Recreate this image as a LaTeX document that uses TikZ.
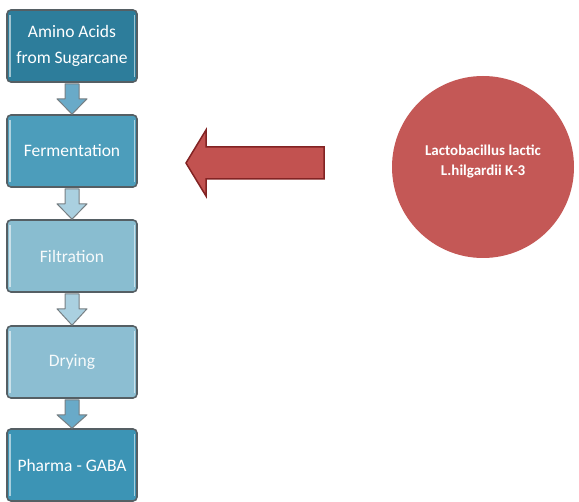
\documentclass[tikz,border=0pt]{standalone}
\usepackage{fontspec}
\setmainfont{Carlito}
\usetikzlibrary{calc}
\definecolor{bA}{RGB}{45,125,155}
\definecolor{bB}{RGB}{76,157,187}
\definecolor{bC}{RGB}{137,189,208}
\definecolor{bD}{RGB}{140,190,210}
\definecolor{bE}{RGB}{60,148,181}
\definecolor{edge}{RGB}{85,95,100}
\definecolor{arrfillA}{RGB}{105,170,200}
\definecolor{arrfill}{RGB}{170,208,224}
\definecolor{redfill}{RGB}{194,82,80}
\definecolor{redline}{RGB}{130,35,35}
\definecolor{circfill}{RGB}{196,88,86}
\begin{document}
\begin{tikzpicture}[x=1pt,y=-1pt,
  stepbox/.style={draw=edge, line width=1.6pt, rounded corners=4pt,
    minimum width=130pt, minimum height=72pt, inner sep=0pt,
    text=white, align=center, font=\fontsize{17.5}{26}\selectfont},
  downarr/.style={draw=edge!80, line width=1pt, line join=round}]
\useasboundingbox (0,0) rectangle (579,502);
\fill[white] (0,0) rectangle (579,502);

\node[stepbox, fill=bA] (n1) at (72,46) {Amino Acids\\from Sugarcane};
\node[stepbox, fill=bB] (n2) at (72,151) {Fermentation};
\node[stepbox, fill=bC, text=white!92!bC] (n3) at (72,256) {Filtration};
\node[stepbox, fill=bD, text=white!92!bD] (n4) at (72,362) {Drying};
\node[stepbox, fill=bE] (n5) at (72,465) {Pharma - GABA};

\foreach \n/\c in {n1/bA,n2/bB,n3/bC,n4/bD,n5/bE}{
  \draw[white!55!\c, line width=1.6pt] ($(\n.north west)+(3.5,6)$) -- ($(\n.south west)+(3.5,-6)$);
  \draw[white!55!\c, line width=1.6pt] ($(\n.north east)+(-3.5,6)$) -- ($(\n.south east)+(-3.5,-6)$);
}

\foreach \a/\b/\f in {n1/n2/arrfillA,n2/n3/arrfill,n3/n4/arrfill,n4/n5/arrfillA}{
  \draw[downarr, fill=\f]
    ($(\a.south)+(-7,1)$) -- ($(\a.south)+(7,1)$) -- ($(\a.south)+(7,16)$)
    -- ($(\a.south)+(15,16)$) -- ($(\b.north)+(0,0)$) -- ($(\a.south)+(-15,16)$)
    -- ($(\a.south)+(-7,16)$) -- cycle;
}

\node[circle, fill=circfill, minimum size=182pt, inner sep=0pt] (bact) at (483,167) {};
\node[text=white, align=center, font=\bfseries\fontsize{15}{20}\selectfont]
  (bacttext) at ($(bact.center)+(0,-5)$) {Lactobacillus lactic\\L.hilgardii K-3};

\coordinate (tip) at (186,163);
\draw[fill=redfill, draw=redline, line width=1.5pt, line join=miter]
  (tip) -- (206,130) -- (206,147) -- (324,147) -- (324,179) -- (206,179) -- (206,196) -- cycle;
\end{tikzpicture}
\end{document}
